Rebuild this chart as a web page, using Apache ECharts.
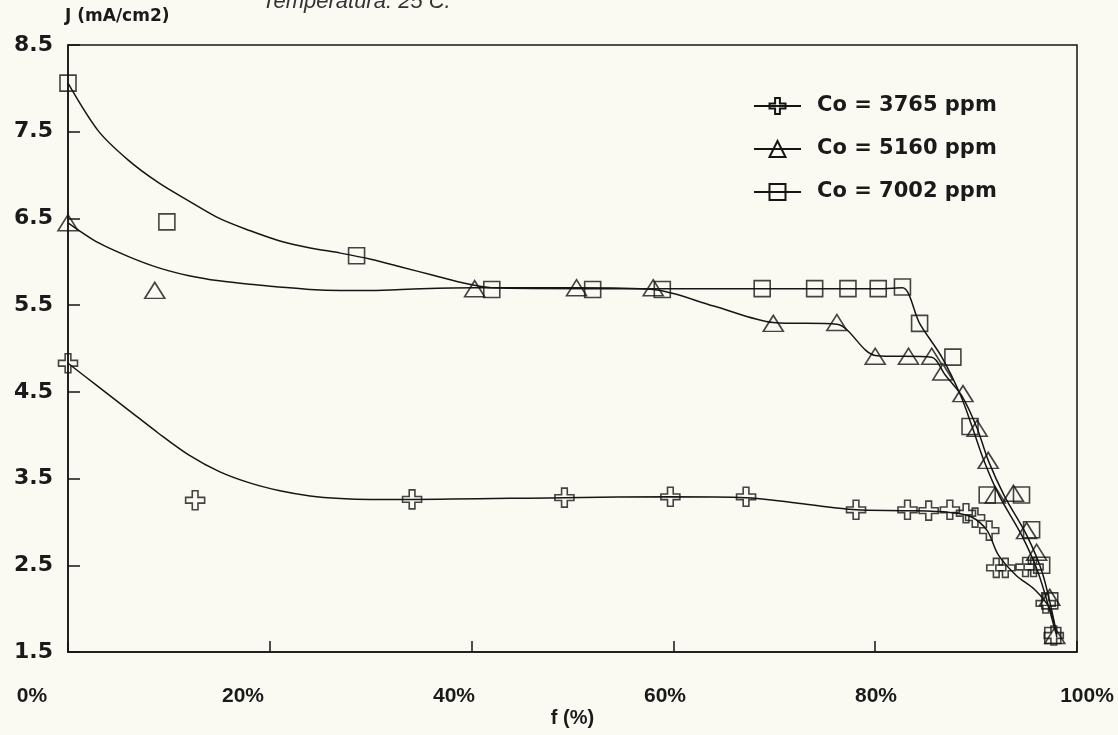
<!DOCTYPE html>
<html>
<head>
<meta charset="utf-8">
<script src="https://cdn.jsdelivr.net/npm/echarts@6/dist/echarts.min.js"></script>
<style>
html,body{margin:0;padding:0;background:#fafaf3;}
#chart{width:1118px;height:735px;}
</style>
</head>
<body>
<div id="chart"></div>
<script>
// ---- data ----
const seriesNames = ['Co = 3765 ppm', 'Co = 5160 ppm', 'Co = 7002 ppm'];
const xTickLabels = ['0%', '20%', '40%', '60%', '80%', '100%'];

// measured points (markers)
const crossX = [0, 12.6, 34.1, 49.2, 59.7, 67.2, 78.1, 83.2, 85.3, 87.4, 89.0, 89.9, 91.3, 92.0, 92.9, 94.9, 95.7, 96.9, 97.7];
const crossY = [4.83, 3.25, 3.26, 3.28, 3.29, 3.29, 3.14, 3.14, 3.13, 3.14, 3.10, 3.05, 2.90, 2.47, 2.47, 2.48, 2.48, 2.06, 1.69];

const triX = [0, 8.6, 40.3, 50.4, 58.0, 69.9, 76.2, 80.0, 83.3, 85.6, 86.7, 88.7, 90.1, 91.2, 91.9, 93.7, 95.0, 96.0, 97.3, 97.8];
const triY = [6.45, 5.67, 5.69, 5.70, 5.70, 5.29, 5.30, 4.91, 4.91, 4.91, 4.73, 4.48, 4.08, 3.71, 3.31, 3.33, 2.90, 2.65, 2.13, 1.69];

const sqX = [0, 9.8, 28.6, 42.0, 52.0, 58.9, 68.8, 74.0, 77.3, 80.3, 82.7, 84.4, 87.7, 89.4, 91.1, 94.5, 95.5, 96.5, 97.3, 97.6];
const sqY = [8.06, 6.46, 6.07, 5.68, 5.68, 5.68, 5.69, 5.69, 5.69, 5.69, 5.71, 5.29, 4.90, 4.10, 3.31, 3.31, 2.91, 2.50, 2.09, 1.69];

// fitted curves
const crossCurveX = [0, 3, 6, 9, 12, 15, 18, 21, 24, 27, 30, 34.1, 49.2, 59.7, 67.2, 72, 78.1, 83.2, 87.4, 89.5, 91.1, 92.2, 94, 95.8, 97.3, 98.0];
const crossCurveY = [4.83, 4.56, 4.29, 4.02, 3.77, 3.58, 3.45, 3.36, 3.30, 3.27, 3.26, 3.26, 3.28, 3.29, 3.28, 3.22, 3.14, 3.13, 3.11, 3.06, 2.90, 2.62, 2.38, 2.22, 2.00, 1.67];

const triCurveX = [0, 3, 6, 9, 12, 15, 18, 21, 24, 27, 30, 35, 40.3, 50.4, 58.0, 64, 69.9, 76.2, 80.0, 85.6, 86.9, 88.6, 90.1, 91.2, 92.8, 95.0, 96.6, 98.0];
const triCurveY = [6.45, 6.22, 6.06, 5.93, 5.84, 5.78, 5.74, 5.71, 5.68, 5.67, 5.67, 5.69, 5.70, 5.70, 5.68, 5.49, 5.30, 5.28, 4.92, 4.90, 4.70, 4.45, 4.08, 3.71, 3.30, 2.85, 2.40, 1.70];

const sqCurveX = [0, 3, 6, 9, 12, 15, 18, 21, 24, 27, 30, 33, 36, 39, 42, 52, 58.9, 68.8, 74.0, 77.3, 80.3, 82.7, 84.4, 86.6, 88.5, 89.6, 90.8, 92.3, 94.5, 96.2, 97.9];
const sqCurveY = [8.06, 7.51, 7.17, 6.91, 6.70, 6.50, 6.36, 6.24, 6.16, 6.10, 6.03, 5.94, 5.85, 5.76, 5.70, 5.69, 5.69, 5.69, 5.69, 5.69, 5.69, 5.70, 5.29, 4.90, 4.45, 4.10, 3.70, 3.30, 2.85, 2.40, 1.72];

// ---- chart ----
const BG = '#fafaf3';
const INK = '#151515';
const zip = (xs, ys) => xs.map((x, i) => [x, ys[i]]);

const crossPath = 'path://M7,0 H13 V7 H20 V13 H13 V20 H7 V13 H0 V7 H7 Z';
const triPath = 'path://M10,0 L20,16 L0,16 Z';
const sqPath = 'rect';

const markerStyle = { color: 'rgba(255,255,255,0)', borderColor: INK, borderWidth: 1.6 };
const lineStyle = { color: INK, width: 1.5 };

const defs = [
  { name: seriesNames[0], sym: crossPath, size: 19, curve: zip(crossCurveX, crossCurveY), pts: zip(crossX, crossY) },
  { name: seriesNames[1], sym: triPath, size: [20, 16], curve: zip(triCurveX, triCurveY), pts: zip(triX, triY) },
  { name: seriesNames[2], sym: sqPath, size: 16, curve: zip(sqCurveX, sqCurveY), pts: zip(sqX, sqY) }
];

const series = [];
defs.forEach(d => {
  series.push({
    name: d.name, type: 'line', data: d.curve, smooth: 0.3,
    showSymbol: false, symbol: d.sym, symbolSize: d.size,
    lineStyle: lineStyle, itemStyle: markerStyle, color: INK,
    xAxisIndex: 0, yAxisIndex: 0, silent: true, z: 2
  });
  series.push({
    name: d.name + ' pts', type: 'scatter', data: d.pts,
    symbol: d.sym, symbolSize: d.size, itemStyle: markerStyle,
    xAxisIndex: 0, yAxisIndex: 0, silent: true, z: 3
  });
});

const chart = echarts.init(document.getElementById('chart'), null, { renderer: 'canvas' });
chart.setOption({
  animation: false,
  backgroundColor: BG,
  textStyle: { fontFamily: 'DejaVu Sans' },
  graphic: [{
    type: 'text', left: 262, top: -9,
    style: { text: 'Temperatura: 25 C.', font: 'italic 22px "Liberation Sans"', fill: '#333' }
  }],
  legend: {
    orient: 'vertical', left: 748, top: 89,
    data: seriesNames,
    itemWidth: 47, itemHeight: 20, itemGap: 19,
    textStyle: { fontFamily: 'DejaVu Sans', fontWeight: 'bold', fontSize: 21, color: '#1a1a1a', padding: [0, 0, 0, 11], lineHeight: 24 },
    selectedMode: false
  },
  grid: [
    { left: 68, right: 41, top: 45, bottom: 83, show: true, borderColor: INK, borderWidth: 1.5 },
    { left: 32, right: 31, top: 45, bottom: 83, show: false }
  ],
  xAxis: [{
    gridIndex: 0, type: 'value', min: 0, max: 100, interval: 20,
    axisLine: { show: true, lineStyle: { color: INK, width: 1.5 } },
    axisTick: { show: true, inside: true, length: 11, lineStyle: { color: INK, width: 1.5 } },
    axisLabel: { show: false }, splitLine: { show: false },
    name: 'f (%)', nameLocation: 'middle', nameGap: 56,
    nameTextStyle: { fontFamily: 'Liberation Sans', fontWeight: 'bold', fontSize: 20, color: '#1a1a1a' }
  }, {
    gridIndex: 1, type: 'value', min: 0, max: 100, interval: 20,
    axisLine: { show: false }, axisTick: { show: false }, splitLine: { show: false },
    axisLabel: {
      formatter: (v) => xTickLabels[Math.round(v / 20)],
      fontFamily: 'Liberation Sans', fontWeight: 'bold', fontSize: 21, color: '#1a1a1a', margin: 34
    }
  }],
  yAxis: [{
    gridIndex: 0, type: 'value', min: 1.5, max: 8.5, interval: 1,
    axisLine: { show: true, lineStyle: { color: INK, width: 1.5 } },
    axisTick: { show: true, inside: true, length: 12, lineStyle: { color: INK, width: 1.5 } },
    axisLabel: { formatter: (v) => v.toFixed(1), fontFamily: 'DejaVu Sans', fontWeight: 'bold', fontSize: 22, color: '#1a1a1a', margin: 15 },
    splitLine: { show: false },
    name: 'J (mA/cm2)', nameLocation: 'end', nameGap: 28,
    nameTextStyle: { fontFamily: 'DejaVu Sans', fontWeight: 'bold', fontSize: 17, color: '#1a1a1a', align: 'left', verticalAlign: 'middle', padding: [0, 0, 0, -3] }
  }, {
    gridIndex: 1, type: 'value', min: 0, max: 1, show: false
  }],
  series: series
});
</script>
</body>
</html>
